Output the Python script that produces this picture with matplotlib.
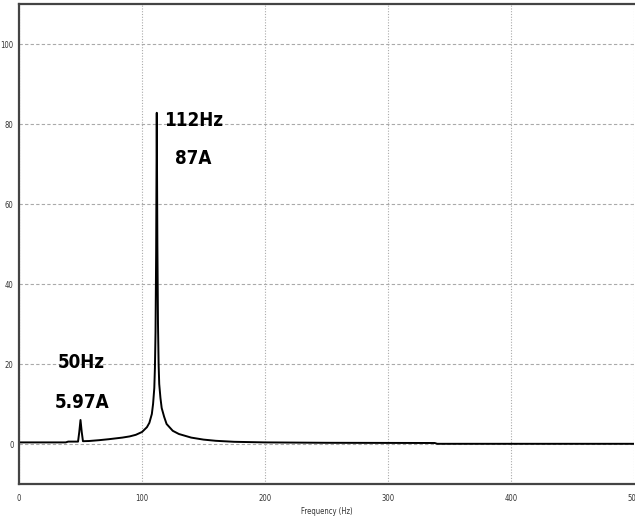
import matplotlib
matplotlib.use("Agg")
import matplotlib.pyplot as plt
from matplotlib import font_manager

# spectrum (Hz, A)
freq = [0, 38, 40, 48, 49, 50, 51, 52, 57, 65, 73, 84, 90, 95, 100, 104, 106, 108,
        109, 110, 110.5, 111, 111.5, 112, 112.5, 113, 113.5, 114, 115, 116, 118, 120,
        125, 130, 140, 150, 160, 175, 200, 250, 338, 340, 500]
amp = [0.4, 0.4, 0.6, 0.6, 3.0, 6.0, 3.0, 0.7, 0.75, 0.95, 1.2, 1.6, 1.9, 2.3, 3.0, 4.2, 5.3, 7.5,
       10.0, 14.0, 19.0, 28.0, 48.0, 82.8, 50.0, 30.0, 20.0, 15.0, 11.5, 9.0, 6.8, 5.0,
       3.3, 2.5, 1.6, 1.1, 0.8, 0.55, 0.4, 0.3, 0.25, 0.05, 0.05]

xticks = [0, 100, 200, 300, 400, 500]
yticks = [0, 20, 40, 60, 80, 100]

peaks = [(142, 80.75, "112Hz"), (142, 71.25, "87A"), (51, 20.25, "50Hz"), (51, 10.5, "5.97A")]

fp_small = font_manager.FontProperties(family="DejaVu Sans", stretch="condensed", size=5.5)
fp_big = font_manager.FontProperties(family="DejaVu Sans", stretch="condensed", weight="bold", size=13.5)

fig = plt.figure(figsize=(6.35, 5.22), dpi=100)
ax = fig.add_axes([19 / 635, 38 / 522, 615 / 635, 480 / 522])

ax.plot(freq, amp, color="black", lw=1.4)

ax.set_xlim(0, 500)
ax.set_ylim(-10, 110)
ax.set_xticks(xticks)
ax.set_yticks(yticks)
ax.tick_params(axis="x", length=0, colors="#333333", pad=7)
ax.tick_params(axis="y", length=0, colors="#333333", pad=4)
for lab in ax.get_xticklabels() + ax.get_yticklabels():
    lab.set_fontproperties(fp_small)

ax.xaxis.grid(True, color="#aaaaaa", lw=0.8, linestyle=(0, (1, 1.5)))
ax.yaxis.grid(True, color="#aaaaaa", lw=0.8, linestyle=(0, (3, 2)))

for side in ["left", "bottom", "top"]:
    ax.spines[side].set_color("#444444")
    ax.spines[side].set_linewidth(1.6)
ax.spines["right"].set_visible(False)

ax.set_xlabel("Frequency (Hz)", fontproperties=fp_small, labelpad=3, color="#333333")

for x, y, s in peaks:
    ax.text(x, y, s, ha="center", va="center", fontproperties=fp_big)

fig.savefig("out.png", dpi=100)
